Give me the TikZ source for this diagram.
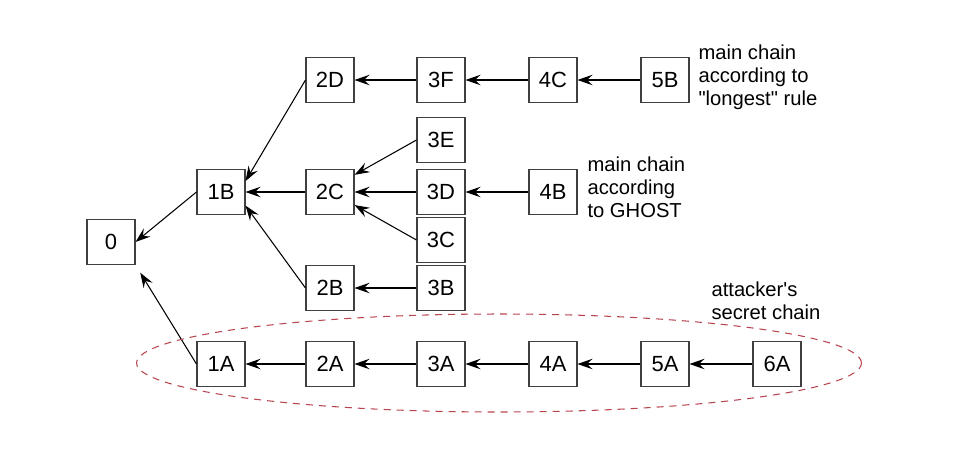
\documentclass[tikz,border=0pt]{standalone}
\usepackage{fontspec}
\setmainfont{Liberation Sans}[Ligatures=TeXOff]
\usetikzlibrary{arrows.meta}
\definecolor{secretred}{HTML}{B84450}
\begin{document}
\begin{tikzpicture}[x=0.02cm, y=-0.02cm, line width=0.6pt,
	block/.style={draw=black!75, minimum width=0.96cm, minimum height=0.9cm, inner sep=0pt, font=\fontsize{12.5}{14}\selectfont},
	link/.style={-{Stealth[length=3mm, width=2.1mm, inset=1.1mm]}},
	note/.style={anchor=north west, align=left, inner sep=0pt, font=\fontsize{11.5}{13.2}\selectfont}]
	\useasboundingbox (0,0) rectangle (970,450);
	\node[block] (b0) at (111,242) {0};
	\node[block] (b1B) at (221,192) {1B};
	\node[block] (b2D) at (330,80) {2D};
	\node[block] (b2C) at (330,192) {2C};
	\node[block] (b2B) at (330,288) {2B};
	\foreach \name/\y in {3F/80, 3E/140, 3D/192, 3C/240, 3B/288}
		\node[block] (b\name) at (441,\y) {\name};
	\node[block] (b4C) at (553,80) {4C};
	\node[block] (b4B) at (553,192) {4B};
	\node[block] (b5B) at (665,80) {5B};
	\foreach \n/\x [remember=\n as \last (initially 0)] in {1/221, 2/330, 3/441, 4/553, 5/665, 6/777}{
		\node[block] (a\n) at (\x,364) {\n A};
		\ifnum\n>1 \draw[link] (a\n) -- (a\last); \fi}
	\draw[link] (b1B.west) -- (b0.east);
	\draw[link, shorten >=1.8mm] (a1.west) -- (b0.south east);
	\draw[link] (b2D.west) -- (b1B.24);
	\draw[link] (b2C) -- (b1B);
	\draw[link] (b2B.west) -- (b1B.-29);
	\draw[link] (b3F) -- (b2D);
	\draw[link] (b3E.west) -- (b2C.35);
	\draw[link] (b3D) -- (b2C);
	\draw[link] (b3C.west) -- (b2C.-28);
	\draw[link] (b3B) -- (b2B);
	\draw[link] (b4C) -- (b3F);
	\draw[link] (b5B) -- (b4C);
	\draw[link] (b4B) -- (b3D);
	\draw[secretred, dashed, dash pattern=on 0.14cm off 0.12cm] (499,363) ellipse [x radius=7.25cm, y radius=0.98cm];
	\node[note] (longest) at (698,44) {main chain\\according to\\"longest" rule};
	\node[note] (ghost) at (587,156) {main chain\\according\\to GHOST};
	\node[note] (secret) at (711,281) {attacker's\\secret chain};
\end{tikzpicture}
\end{document}
